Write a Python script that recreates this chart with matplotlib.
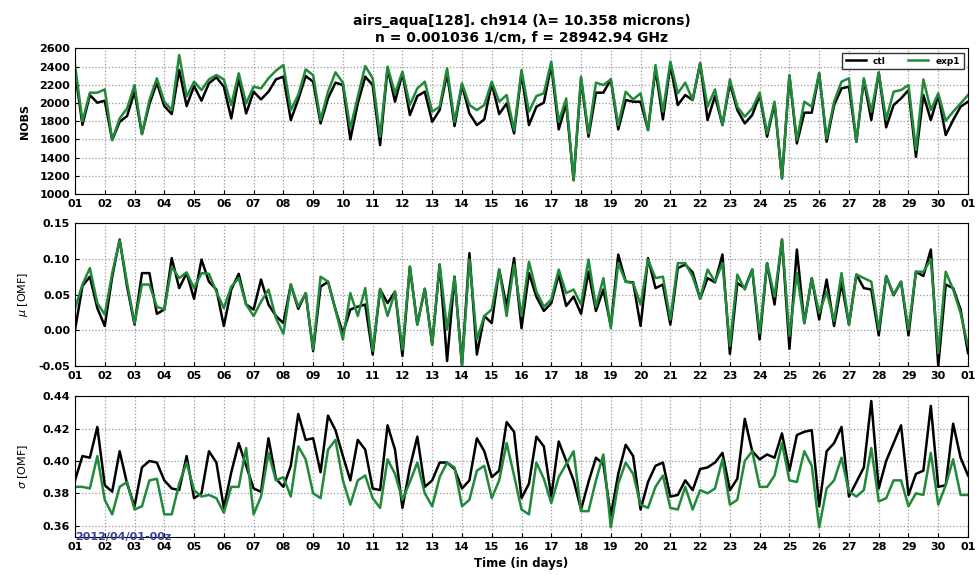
import matplotlib
matplotlib.use('Agg')
import matplotlib.pyplot as plt

# 6-hourly values, 2012/04/01 00z to 2012/05/01 00z
nobs_ctl = [2350, 1760, 2088, 2004, 2026, 1593, 1794, 1857, 2125, 1659, 1989, 2224, 1967, 1879, 2363, 1967,
            2187, 2026, 2217, 2283, 2180, 1831, 2272, 1886, 2125, 2040, 2125, 2260, 2290, 1813, 2040, 2297,
            2235, 1776, 2051, 2224, 2198, 1600, 1996, 2290, 2198, 1538, 2382, 2015, 2327, 1868, 2077, 2125,
            1794, 1923, 2327, 1747, 2198, 1886, 1758, 1820, 2217, 1879, 1996, 1666, 2327, 1758, 1960, 2004,
            2418, 1710, 1996, 1152, 2260, 1630, 2114, 2114, 2260, 1710, 2033, 2015, 2015, 1703, 2370, 1820,
            2418, 1978, 2088, 2033, 2437, 1813, 2077, 1758, 2217, 1923, 1776, 1868, 2088, 1630, 1996, 1171,
            2297, 1556, 1894, 1894, 2327, 1575, 1978, 2161, 2180, 1575, 2253, 1813, 2334, 1733, 1978, 2051,
            2143, 1409, 2088, 1813, 2088, 1648, 1813, 1960, 2015]
nobs_exp = [2420, 1800, 2114, 2114, 2150, 1593, 1831, 1941, 2198, 1659, 2033, 2272, 2015, 1923, 2528, 2070,
            2235, 2143, 2260, 2308, 2260, 1978, 2327, 1996, 2180, 2161, 2272, 2356, 2418, 1923, 2090, 2370,
            2308, 1813, 2125, 2338, 2224, 1721, 2070, 2407, 2272, 1630, 2400, 2107, 2345, 1978, 2161, 2235,
            1905, 1960, 2382, 1794, 2217, 1978, 1923, 1978, 2235, 2015, 2088, 1703, 2363, 1905, 2077, 2107,
            2455, 1794, 2051, 1152, 2290, 1666, 2224, 2198, 2260, 1758, 2125, 2040, 2107, 1703, 2418, 1905,
            2455, 2107, 2224, 2033, 2437, 1960, 2150, 1758, 2260, 1960, 1850, 1941, 2114, 1666, 2015, 1171,
            2308, 1593, 2015, 1960, 2327, 1611, 2015, 2235, 2272, 1575, 2272, 1905, 2334, 1820, 2125, 2143,
            2198, 1483, 2260, 1923, 2107, 1805, 1905, 1996, 2088]

mu_ctl = [0.000, 0.062, 0.075, 0.031, 0.006, 0.075, 0.127, 0.061, 0.008, 0.080, 0.080, 0.023, 0.029, 0.101,
          0.059, 0.080, 0.044, 0.099, 0.068, 0.057, 0.006, 0.057, 0.079, 0.036, 0.029, 0.071, 0.036, 0.020,
          0.010, 0.064, 0.030, 0.052, -0.029, 0.061, 0.068, 0.029, -0.004, 0.029, 0.033, 0.036, -0.034, 0.057,
          0.038, 0.054, -0.036, 0.089, 0.008, 0.058, -0.020, 0.092, -0.043, 0.075, -0.048, 0.108, -0.034,
          0.020, 0.010, 0.085, 0.033, 0.101, 0.003, 0.080, 0.047, 0.027, 0.038, 0.078, 0.034, 0.047, 0.023,
          0.082, 0.027, 0.057, 0.006, 0.106, 0.068, 0.067, 0.006, 0.101, 0.059, 0.064, 0.008, 0.087, 0.092,
          0.081, 0.044, 0.073, 0.067, 0.106, -0.033, 0.066, 0.059, 0.085, -0.013, 0.094, 0.036, 0.127, -0.026,
          0.113, 0.010, 0.073, 0.015, 0.071, 0.006, 0.066, 0.008, 0.078, 0.059, 0.057, -0.007, 0.076, 0.049,
          0.068, -0.007, 0.082, 0.076, 0.113, -0.050, 0.064, 0.059, 0.029, -0.032]
mu_exp = [0.030, 0.064, 0.087, 0.038, 0.022, 0.080, 0.126, 0.066, 0.010, 0.064, 0.064, 0.033, 0.029, 0.089,
          0.073, 0.081, 0.059, 0.080, 0.079, 0.054, 0.031, 0.061, 0.073, 0.036, 0.020, 0.040, 0.057, 0.017,
          -0.005, 0.064, 0.033, 0.052, -0.027, 0.075, 0.068, 0.029, -0.013, 0.052, 0.020, 0.059, -0.029, 0.058,
          0.020, 0.054, -0.027, 0.089, 0.008, 0.058, -0.020, 0.092, 0.001, 0.075, -0.050, 0.099, -0.013,
          0.020, 0.029, 0.085, 0.020, 0.092, 0.020, 0.096, 0.054, 0.033, 0.043, 0.085, 0.052, 0.057, 0.036,
          0.099, 0.033, 0.073, 0.003, 0.094, 0.068, 0.066, 0.036, 0.099, 0.073, 0.075, 0.015, 0.094, 0.094,
          0.075, 0.044, 0.085, 0.068, 0.094, -0.022, 0.078, 0.057, 0.085, -0.004, 0.094, 0.047, 0.127, -0.008,
          0.080, 0.010, 0.073, 0.024, 0.054, 0.013, 0.080, 0.008, 0.078, 0.073, 0.068, 0.001, 0.076, 0.050,
          0.068, 0.001, 0.082, 0.082, 0.099, -0.032, 0.082, 0.057, 0.024, -0.022]

sigma_ctl = [0.388, 0.403, 0.402, 0.421, 0.385, 0.381, 0.406, 0.386, 0.372, 0.396, 0.400, 0.399, 0.388, 0.383,
             0.382, 0.403, 0.377, 0.380, 0.406, 0.399, 0.371, 0.393, 0.411, 0.397, 0.383, 0.381, 0.414, 0.389,
             0.384, 0.397, 0.429, 0.413, 0.414, 0.393, 0.428, 0.419, 0.403, 0.388, 0.413, 0.407, 0.383, 0.382,
             0.422, 0.407, 0.371, 0.396, 0.415, 0.384, 0.388, 0.399, 0.399, 0.395, 0.383, 0.388, 0.414, 0.406,
             0.390, 0.394, 0.424, 0.418, 0.377, 0.386, 0.415, 0.409, 0.378, 0.412, 0.400, 0.388, 0.370, 0.387,
             0.402, 0.398, 0.366, 0.392, 0.410, 0.403, 0.370, 0.387, 0.397, 0.399, 0.378, 0.379, 0.388, 0.382,
             0.395, 0.396, 0.399, 0.405, 0.382, 0.389, 0.426, 0.406, 0.401, 0.404, 0.402, 0.417, 0.394, 0.416,
             0.418, 0.419, 0.372, 0.406, 0.411, 0.421, 0.378, 0.387, 0.396, 0.437, 0.383, 0.400, 0.411, 0.422,
             0.379, 0.392, 0.394, 0.434, 0.384, 0.385, 0.423, 0.402, 0.391]
sigma_exp = [0.384, 0.384, 0.383, 0.403, 0.376, 0.367, 0.384, 0.387, 0.370, 0.372, 0.388, 0.389, 0.367, 0.367,
             0.386, 0.399, 0.382, 0.378, 0.379, 0.377, 0.368, 0.384, 0.384, 0.408, 0.367, 0.378, 0.405, 0.388,
             0.390, 0.378, 0.409, 0.401, 0.380, 0.377, 0.407, 0.413, 0.388, 0.373, 0.388, 0.391, 0.377, 0.371,
             0.401, 0.392, 0.376, 0.387, 0.399, 0.380, 0.372, 0.390, 0.399, 0.396, 0.372, 0.376, 0.394, 0.397,
             0.377, 0.388, 0.411, 0.391, 0.370, 0.367, 0.399, 0.389, 0.374, 0.390, 0.398, 0.406, 0.369, 0.369,
             0.388, 0.404, 0.359, 0.386, 0.399, 0.392, 0.373, 0.371, 0.384, 0.391, 0.371, 0.370, 0.384, 0.370,
             0.382, 0.380, 0.383, 0.401, 0.373, 0.376, 0.400, 0.406, 0.384, 0.384, 0.391, 0.411, 0.388, 0.387,
             0.406, 0.397, 0.359, 0.383, 0.388, 0.402, 0.381, 0.378, 0.382, 0.408, 0.375, 0.377, 0.388, 0.388,
             0.372, 0.380, 0.379, 0.405, 0.373, 0.385, 0.401, 0.379, 0.379]

day_labels = ['%02d' % d for d in range(1, 31)] + ['01']

times = [i / 4.0 for i in range(len(nobs_ctl))]
ctl_color = 'black'
exp_color = '#21893a'

fig = plt.figure(figsize=(9.79, 5.75), dpi=100)
left, width = 0.0766, 0.9122
ax1 = fig.add_axes([left, 0.6626, width, 0.2531])
ax2 = fig.add_axes([left, 0.3635, width, 0.2485])
ax3 = fig.add_axes([left, 0.066, width, 0.245])

ax1.plot(times, nobs_ctl, color=ctl_color, linewidth=1.8, label='ctl')
ax1.plot(times, nobs_exp, color=exp_color, linewidth=1.8, label='exp1')
ax2.plot(times, mu_ctl, color=ctl_color, linewidth=1.8)
ax2.plot(times, mu_exp, color=exp_color, linewidth=1.8)
ax3.plot(times, sigma_ctl, color=ctl_color, linewidth=1.8)
ax3.plot(times, sigma_exp, color=exp_color, linewidth=1.8)

ax1.set_ylim(1000, 2600)
ax1.set_yticks(range(1000, 2601, 200))
ax2.set_ylim(-0.05, 0.15)
ax2.set_yticks([-0.05, 0.0, 0.05, 0.10, 0.15])
ax2.set_yticklabels(['%.2f' % v for v in [-0.05, 0.0, 0.05, 0.10, 0.15]])
ax3.set_ylim(0.353, 0.44)
ax3.set_yticks([0.36, 0.38, 0.40, 0.42, 0.44])
ax3.set_yticklabels(['%.2f' % v for v in [0.36, 0.38, 0.40, 0.42, 0.44]])

for ax in (ax1, ax2, ax3):
    ax.set_xlim(0, 30)
    ax.set_xticks(range(31))
    ax.set_xticklabels(day_labels)
    ax.grid(True, color='#999999', linestyle=':', linewidth=0.9)
    ax.tick_params(labelsize=8, length=3, direction='in')
    for lab in ax.get_xticklabels() + ax.get_yticklabels():
        lab.set_fontweight('bold')

ax1.set_ylabel('NOBS', fontsize=8, fontweight='bold')
ax2.set_ylabel(r'$\mu$ [OMF]', fontsize=8)
ax3.set_ylabel(r'$\sigma$ [OMF]', fontsize=8)
for ax in (ax1, ax2, ax3):
    ax.yaxis.set_label_coords(-0.05, 0.5)
ax3.set_xlabel('Time (in days)', fontsize=8.5, fontweight='bold')

leg = ax1.legend(loc='upper right', ncol=2, prop={'size': 6.5, 'weight': 'bold'},
                 handlelength=2.2, borderpad=0.4, columnspacing=2.5, fancybox=False)
leg.get_frame().set_edgecolor('black')

ax1.set_title('airs_aqua[128]. ch914 (\u03bb= 10.358 microns)\nn = 0.001036 1/cm, f = 28942.94 GHz',
              fontsize=10, fontweight='bold', pad=5)

ax3.text(0.0, 0.0, '2012/04/01-00z', transform=ax3.transAxes, color='#3a3f9a',
         fontsize=8, fontweight='bold', va='center', ha='left')

fig.savefig('out.png', dpi=100)
